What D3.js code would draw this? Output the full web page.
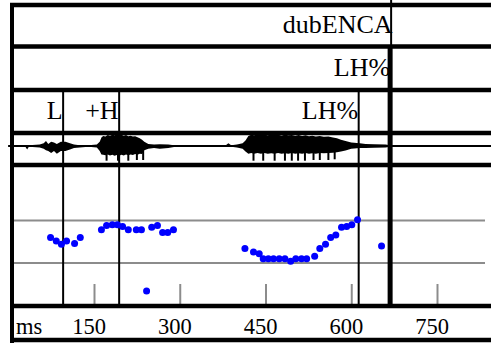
<!DOCTYPE html>
<html>
<head>
<meta charset="utf-8">
<script src="https://cdn.jsdelivr.net/npm/d3@7"></script>
<style>
  html, body { margin: 0; padding: 0; background: #fff; }
  svg { display: block; }
</style>
</head>
<body>
<script>
// ---- annotation tiers ----
const wordLabels = ["dubENCA"];
const wordEnds = [668];
const phraseLabels = ["LH%"];
const phraseEnds = [668];
const toneLabels = ["L", "+H", "LH%"];
const toneTimes = [96, 194, 613];
const selectionEnd = 668;

// ---- time axis ----
const xTicks = [150, 300, 450, 600, 750];
const xUnit = "ms";

// ---- pitch track (ms, Hz) ----
const pitchTimes = [74, 84, 93, 102, 116, 126, 163, 172, 182, 191, 200, 210, 224, 233, 242,
  251, 261, 270, 279, 289,
  414, 429, 439, 446, 455, 464, 474, 484, 494, 503, 513, 522, 536, 545, 555, 564, 573, 583, 592, 601, 611,
  653];
const pitchHz = [130, 126, 122, 126, 123, 130, 139, 144, 145, 145, 143, 139, 139, 139, 67,
  142, 144, 136, 136, 139,
  117, 113, 111, 105, 105, 105, 105, 105, 102, 105, 105, 105, 108, 117, 122, 130, 133, 142, 143, 145, 151,
  120];
const pitchGuides = [100, 150];

// ---- waveform envelope (ms, upper and lower amplitude) ----
const waveTimes = [0, 30, 33, 36, 55, 62, 66, 70, 75, 80, 85, 92, 100, 108, 115, 125, 140,
  155, 160, 163, 166, 170, 174, 178, 182, 186, 190, 194, 198, 202, 206, 210, 214, 218, 222, 226, 230, 234, 238,
  245, 255, 265, 280, 290, 300,
  380, 385, 390, 400, 410, 415, 420, 425, 430, 436, 442, 448, 454, 460, 466, 472, 478, 484, 490, 496, 502,
  508, 514, 520, 526, 532, 538, 545, 552, 560, 568, 575, 582, 590, 600, 615,
  625, 640, 660, 668, 680, 845];
const waveTop = [0.05, 0.05, 0.05, 0.05, 0.1, 0.2, 0.35, 0.15, 0.3, 0.25, 0.15, 0.3, 0.3, 0.2, 0.1, 0.05, 0.05,
  0.1, 0.3, 0.6, 0.72, 0.68, 0.78, 0.74, 0.8, 0.76, 0.82, 0.78, 0.8, 0.74, 0.78, 0.7, 0.74, 0.68, 0.7, 0.62, 0.55, 0.45, 0.3,
  0.15, 0.1, 0.12, 0.1, 0.05, 0.03,
  0.03, 0.2, 0.05, 0.1, 0.2, 0.4, 0.72, 0.8, 0.76, 0.82, 0.78, 0.8, 0.76, 0.82, 0.78, 0.8, 0.75, 0.8, 0.76, 0.78, 0.74,
  0.78, 0.72, 0.76, 0.7, 0.74, 0.68, 0.72, 0.66, 0.68, 0.6, 0.55, 0.45, 0.35, 0.25, 0.2,
  0.15, 0.12, 0.1, 0.05, 0.03, 0.03];
const waveBottom = [-0.05, -0.05, -0.25, -0.05, -0.1, -0.2, -0.3, -0.35, -0.5, -0.35, -0.55, -0.35, -0.35, -0.25, -0.15, -0.1, -0.05,
  -0.1, -0.35, -0.6, -0.62, -0.66, -0.6, -0.68, -0.62, -0.7, -0.64, -0.7, -0.62, -0.68, -0.6, -0.66, -0.6, -0.64, -0.58, -0.62, -0.55, -0.58, -0.3,
  -0.2, -0.15, -0.2, -0.15, -0.08, -0.03,
  -0.03, -0.05, -0.05, -0.1, -0.2, -0.4, -0.55, -0.5, -0.56, -0.5, -0.55, -0.5, -0.56, -0.52, -0.55, -0.5, -0.55, -0.52, -0.56, -0.5, -0.55,
  -0.52, -0.55, -0.5, -0.55, -0.52, -0.55, -0.5, -0.52, -0.5, -0.48, -0.45, -0.4, -0.32, -0.2, -0.15,
  -0.15, -0.12, -0.1, -0.05, -0.03, -0.03];
// glottal pulse peaks below the envelope
const spikeTimes = [172, 192, 210, 225, 236, 429, 446, 466, 484, 496, 507, 519, 534, 545, 560, 571];
const spikeDepth = [-1.05, -1.05, -1.05, -1.0, -1.0, -1.05, -1.05, -1.05, -1.05, -1.05, -1.05, -1.05, -1.0, -1.0, -1.0, -0.95];

const SERIF = '"Liberation Serif"';
const W = 491, H = 343;
const svg = d3.select("body").append("svg").attr("width", W).attr("height", H);
svg.append("rect").attr("width", W).attr("height", H).attr("fill", "#fff");

const x = d3.scaleLinear().domain([0, 750]).range([8.25, 437]);
const yPitch = d3.scaleLinear().domain([100, 150]).range([263, 220.5]);
const yWave = d3.scaleLinear().domain([-1, 1]).range([160, 132]);

const leftEdge = 12;
const rowLines = [5, 46.5, 90, 133, 165, 306, 340];

// pitch guide lines
svg.append("g").selectAll("line").data(pitchGuides).join("line")
  .attr("x1", 14).attr("x2", 485)
  .attr("y1", d => yPitch(d)).attr("y2", d => yPitch(d))
  .attr("stroke", "#8c8c8c").attr("stroke-width", 2);

// time axis ticks and labels
const axis = d3.axisBottom(x).tickValues(xTicks).tickSizeInner(-20).tickSizeOuter(0).tickFormat(d3.format("d"));
const gAxis = svg.append("g").attr("transform", "translate(0,304)").call(axis)
  .attr("font-family", null).attr("font-size", null);
gAxis.select(".domain").remove();
gAxis.selectAll(".tick line").attr("stroke", "#8c8c8c").attr("stroke-width", 2);
gAxis.selectAll(".tick text")
  .attr("y", 30).attr("dy", 0).attr("dx", -5.5)
  .style("font-family", SERIF).style("font-size", "22.5px")
  .attr("fill", "#000");
svg.append("text").attr("x", 16).attr("y", 334)
  .style("font-family", SERIF).style("font-size", "22.5px").text(xUnit);

// waveform
const waveData = waveTimes.map((t, i) => ({ t, top: waveTop[i], bot: waveBottom[i] }));
svg.append("path").datum(waveData)
  .attr("d", d3.area().x(d => x(d.t)).y0(d => yWave(d.bot)).y1(d => yWave(d.top)))
  .attr("fill", "#000");
svg.append("line").attr("x1", x(0)).attr("x2", W)
  .attr("y1", yWave(0)).attr("y2", yWave(0)).attr("stroke", "#000").attr("stroke-width", 2);
svg.append("g").selectAll("line").data(spikeTimes).join("line")
  .attr("x1", d => x(d)).attr("x2", d => x(d))
  .attr("y1", yWave(0)).attr("y2", (d, i) => yWave(spikeDepth[i]))
  .attr("stroke", "#000").attr("stroke-width", 2);

// tier separators and frame
svg.append("g").selectAll("line").data(rowLines).join("line")
  .attr("x1", leftEdge - 2).attr("x2", W)
  .attr("y1", d => d).attr("y2", d => d)
  .attr("stroke", "#000").attr("stroke-width", 4.5);
svg.append("line").attr("x1", leftEdge).attr("x2", leftEdge).attr("y1", 3).attr("y2", H)
  .attr("stroke", "#000").attr("stroke-width", 4);

// tone boundaries
svg.append("g").selectAll("line").data(toneTimes).join("line")
  .attr("x1", d => x(d)).attr("x2", d => x(d))
  .attr("y1", rowLines[2]).attr("y2", rowLines[5])
  .attr("stroke", "#000").attr("stroke-width", 2);

// selection end
svg.append("line").attr("x1", x(selectionEnd) + 1).attr("x2", x(selectionEnd) + 1)
  .attr("y1", 0).attr("y2", rowLines[1])
  .attr("stroke", "#000").attr("stroke-width", 2);
svg.append("line").attr("x1", x(selectionEnd)).attr("x2", x(selectionEnd))
  .attr("y1", rowLines[1]).attr("y2", rowLines[5])
  .attr("stroke", "#000").attr("stroke-width", 5);

// pitch points
svg.append("g").selectAll("circle").data(pitchTimes).join("circle")
  .attr("cx", d => x(d)).attr("cy", (d, i) => yPitch(pitchHz[i]))
  .attr("r", 3.5).attr("fill", "#0000ff");

// tier labels
const tierFont = "26px";
function tierText(g) {
  g.attr("text-anchor", "end").style("font-family", SERIF).style("font-size", tierFont)
    .attr("fill", "#000").text(d => d);
}
svg.append("g").selectAll("text").data(wordLabels).join("text")
  .attr("x", (d, i) => x(wordEnds[i]) + 2.5).attr("y", 33).call(tierText);
svg.append("g").selectAll("text").data(phraseLabels).join("text")
  .attr("x", (d, i) => x(phraseEnds[i])).attr("y", 76).call(tierText);
svg.append("g").selectAll("text").data(toneLabels).join("text")
  .attr("x", (d, i) => x(toneTimes[i]) - 0.5).attr("y", 119).call(tierText);
</script>
</body>
</html>
